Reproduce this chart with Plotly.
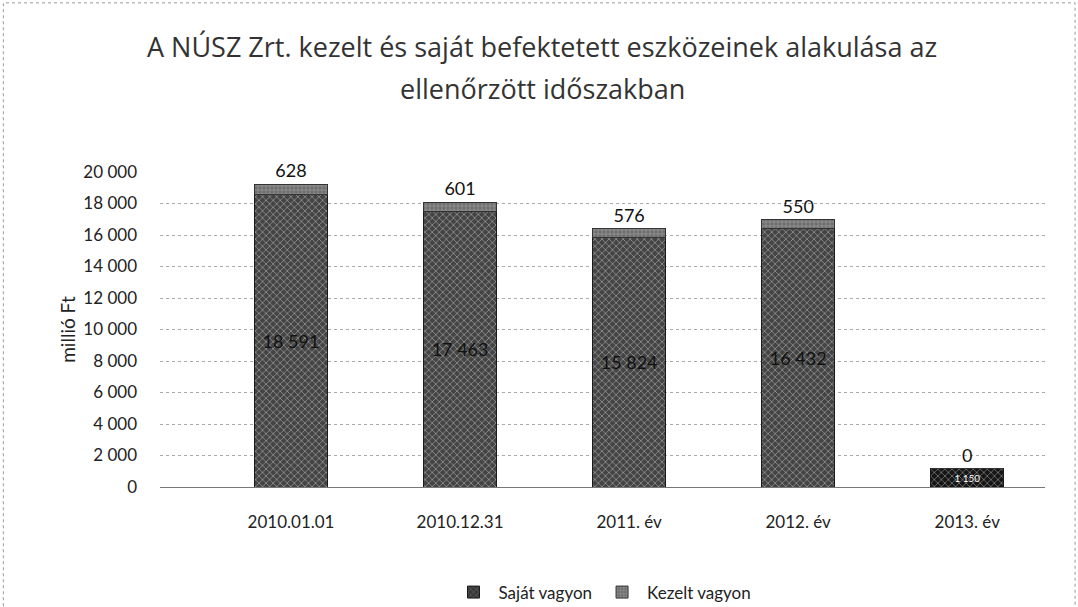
import plotly.graph_objects as go

categories = ["2010.01.01", "2010.12.31", "2011. év", "2012. év", "2013. év"]
sajat = [18591, 17463, 15824, 16432, 1150]
kezelt = [628, 601, 576, 550, 0]
sajat_labels = ["18 591", "17 463", "15 824", "16 432", "1 150"]
kezelt_labels = ["628", "601", "576", "550", "0"]
y_ticks = [0, 2000, 4000, 6000, 8000, 10000, 12000, 14000, 16000, 18000, 20000]
title_lines = ["A NÚSZ Zrt. kezelt és saját befektetett eszközeinek alakulása az",
               "ellenőrzött időszakban"]

FONT = "Lato, 'Open Sans', sans-serif"
TFONT = "'Open Sans', Lato, sans-serif"

fig = go.Figure()
fig.add_trace(go.Bar(
    name="Saját vagyon", x=categories, y=sajat,
    text=sajat_labels, textposition="inside", insidetextanchor="middle",
    textfont=dict(size=18, color=["#111"] * 4 + ["#ffffff"], family=FONT),
    marker=dict(color=["#444444"] * 4 + ["#151515"],
                line=dict(color="#1a1a1a", width=1),
                pattern=dict(shape="x", fgcolor="#8c8c8c", bgcolor="#383838", size=5, solidity=0.25)),
))
fig.add_trace(go.Bar(
    name="Kezelt vagyon", x=categories, y=kezelt,
    text=kezelt_labels, textposition="outside",
    textfont=dict(size=18, color="#111", family=FONT),
    marker=dict(color="#808080", line=dict(color="#333", width=1),
                pattern=dict(shape="+", fgcolor="#c8c8c8", bgcolor="#6e6e6e", size=4, solidity=0.3)),
    cliponaxis=False,
))

fig.update_layout(
    barmode="stack", bargap=0.57,
    width=1078, height=607,
    paper_bgcolor="white", plot_bgcolor="white",
    separators=", ",
    font=dict(family=FONT, size=16, color="#222"),
    margin=dict(l=160, r=33, t=172, b=120, autoexpand=False),
    legend=dict(orientation="h", x=0.5, xanchor="center", y=-0.335, yanchor="middle",
                font=dict(size=17, family=FONT), traceorder="normal", itemwidth=40),
    showlegend=True,
    annotations=[
        dict(text=title_lines[0], xref="paper", yref="paper", x=0.432, y=1.40, showarrow=False,
             xanchor="center", yanchor="middle", font=dict(size=27, family=TFONT, color="#333333")),
        dict(text=title_lines[1], xref="paper", yref="paper", x=0.432, y=1.265, showarrow=False,
             xanchor="center", yanchor="middle", font=dict(size=27, family=TFONT, color="#333333")),
    ],
    shapes=[dict(type="rect", xref="paper", yref="paper", x0=-0.177, x1=1.034, y0=-0.40, y1=1.537,
                 line=dict(color="#999", width=1, dash="dot"))],
)
fig.update_yaxes(range=[0, 20000], tickvals=y_ticks, tickformat=",d",
                 showgrid=True, gridcolor="#aaa", griddash="dot", gridwidth=1,
                 zeroline=False, showline=False, ticks="", ticklabelstandoff=22,
                 title=dict(text="millió Ft", font=dict(size=19, family=FONT), standoff=2),
                 tickfont=dict(size=17))
fig.update_xaxes(range=[-0.775, 4.46], showline=True, linecolor="#777", linewidth=1, ticks="",
                 ticklabelstandoff=20, tickfont=dict(size=17))

fig.write_html("out.html", config={"displayModeBar": False},
               post_script="document.body.style.margin='0';")
